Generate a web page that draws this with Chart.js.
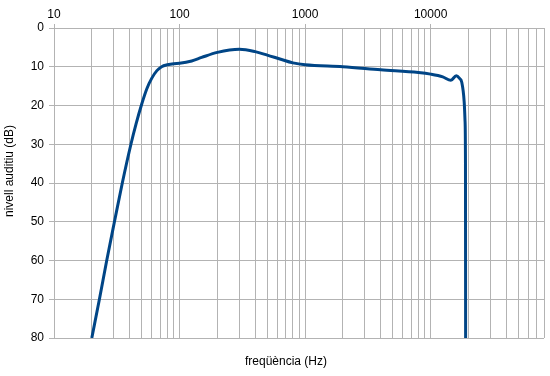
<!DOCTYPE html>
<html>
<head>
<meta charset="utf-8">
<script src="https://cdn.jsdelivr.net/npm/chart.js@4"></script>
<style>
  html, body { margin: 0; padding: 0; background: #fff; }
  #wrap { width: 550px; height: 376px; }
</style>
</head>
<body>
<div id="wrap"><canvas id="audioChart"></canvas></div>
<script>
// frequency (Hz) and hearing level (dB)
const freqs = [20, 23, 26.3, 30.3, 35, 41, 45, 50, 55, 60, 66, 72, 80, 90, 100, 125, 150, 200, 300, 400, 500, 630, 800, 1000, 2000, 4000, 8000, 10000, 12500, 14500, 16000, 17000, 17700, 18500, 18800, 18950, 19000];
const levels = [80, 70, 60, 50, 40, 30, 24.8, 19.6, 15.6, 13, 11, 10, 9.5, 9.2, 9.1, 8.5, 7.6, 6.3, 5.5, 6.1, 7, 8, 9, 9.5, 10, 10.8, 11.5, 11.9, 12.6, 13.5, 12.3, 13, 14, 19, 24, 35, 80];
const xLabels = [10, 100, 1000, 10000];
const yTicks = [0, 10, 20, 30, 40, 50, 60, 70, 80];

const points = freqs.map((f, i) => ({ x: f, y: levels[i] }));
const labelFont = { family: 'Liberation Sans, Arial, sans-serif', size: 12 };

function isMajor(v) {
    return xLabels.includes(Math.round(v));
}

// draws the two axis titles
const axisTitles = {
    id: 'axisTitles',
    afterDraw(chart) {
        const ctx = chart.ctx;
        ctx.save();
        ctx.fillStyle = '#000';
        ctx.font = '12px Liberation Sans, Arial, sans-serif';
        ctx.textAlign = 'center';
        ctx.textBaseline = 'middle';
        ctx.fillText('freqüència (Hz)', 286, 362);
        ctx.translate(10, 171);
        ctx.rotate(-Math.PI / 2);
        ctx.fillText('nivell auditiu (dB)', 0, 0);
        ctx.restore();
    }
};

const ctx = document.getElementById('audioChart').getContext('2d');
const chart = new Chart(ctx, {
    type: 'line',
    data: {
        datasets: [{
            data: points,
            borderColor: '#004586',
            borderWidth: 3,
            pointRadius: 0,
            fill: false,
            cubicInterpolationMode: 'monotone'
        }]
    },
    options: {
        responsive: true,
        maintainAspectRatio: false,
        animation: false,
        layout: { padding: { left: 0, right: 6, top: 0, bottom: 38 } },
        plugins: {
            legend: { display: false },
            tooltip: { enabled: false }
        },
        scales: {
            x: {
                type: 'logarithmic',
                position: 'top',
                min: 10,
                max: 80000,
                afterFit: scale => { scale.height = 28; },
                afterBuildTicks: scale => {
                    const t = [];
                    for (let d = 10; d < 100000; d *= 10) {
                        for (let m = 1; m <= 9; m++) {
                            const v = d * m;
                            if (v <= 80000) t.push({ value: v });
                        }
                    }
                    scale.ticks = t;
                },
                border: { color: '#b3b3b3' },
                grid: {
                    color: '#b3b3b3',
                    tickLength: 4,
                    tickColor: c => (c.tick && isMajor(c.tick.value)) ? '#b3b3b3' : 'rgba(0,0,0,0)'
                },
                ticks: {
                    autoSkip: false,
                    maxRotation: 0,
                    padding: 2,
                    color: '#000',
                    font: labelFont,
                    callback: v => isMajor(v) ? String(Math.round(v)) : ''
                }
            },
            y: {
                reverse: true,
                min: 0,
                max: 80,
                afterFit: scale => { scale.width = 54; },
                afterBuildTicks: scale => {
                    scale.ticks = yTicks.map(v => ({ value: v }));
                },
                border: { color: '#b3b3b3' },
                grid: { color: '#b3b3b3', tickLength: 5 },
                ticks: {
                    padding: 5,
                    color: '#000',
                    font: labelFont
                }
            }
        }
    },
    plugins: [axisTitles]
});
</script>
</body>
</html>
